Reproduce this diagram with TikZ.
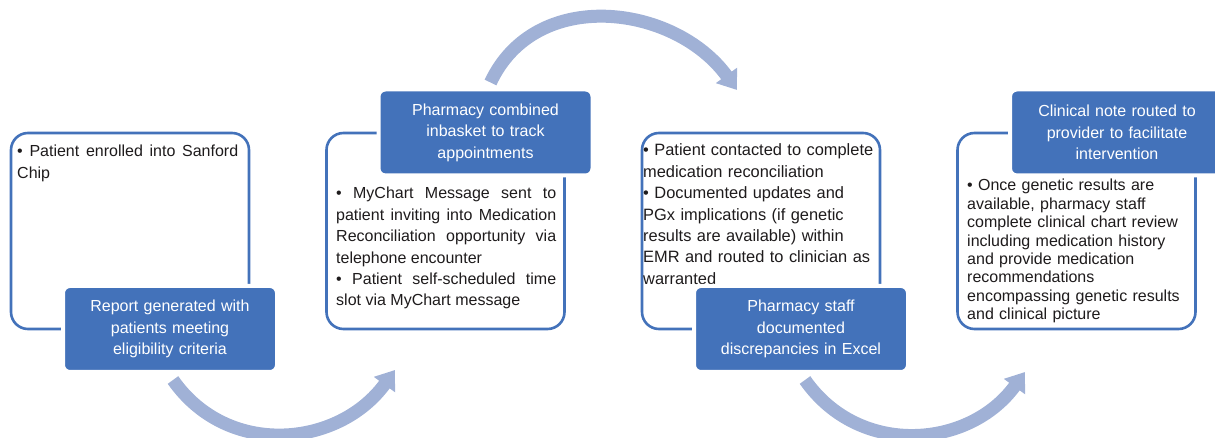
\documentclass[tikz,border=0pt]{standalone}
\usepackage{fontspec}
\setmainfont{Liberation Sans}
\usetikzlibrary{arrows.meta,positioning,calc}
\definecolor{stepblue}{RGB}{67,114,186}
\definecolor{flowblue}{RGB}{160,177,214}
\definecolor{inktext}{RGB}{30,27,28}
\tikzset{panel/.style={draw=stepblue, line width=2.6pt, rounded corners=17pt, fill=white, minimum width=238pt, minimum height=196pt, inner sep=0pt}}
\tikzset{tagbox/.style={draw=white, line width=4pt, fill=stepblue, rounded corners=7pt, text=white, minimum width=214pt, minimum height=86pt, text width=200pt, align=center, inner sep=0pt, font=\fontsize{16}{21.5}\selectfont}}
\tikzset{note/.style={anchor=base west, inner sep=0pt, text=inktext, font=\fontsize{16}{21.4}\selectfont, execute at begin node={\tolerance=10000\relax\hyphenpenalty=10000\relax}}}
\tikzset{flow/.style={draw=flowblue, line width=13pt, -{Triangle[width=25pt,length=18pt]}, looseness=1.1}}

\begin{document}
\begin{tikzpicture}[x=1pt,y=1pt]
			\useasboundingbox (0,0) rectangle (1215,438);
			
			\node[panel] (P1) at (130,207){};
			\node[panel] (P2) at (445.5,207){};
			\node[panel] (P3) at (761,207){};
			\node[panel] (P4) at (1076.5,207){};
			
			\node[note, text width=221pt, align=justify] (N1) at (17,281){%
				• Patient enrolled into Sanford\linebreak Chip};
			\node[note, text width=220pt, align=justify] (N2) at (336,239){%
				• MyChart Message sent to\linebreak patient inviting into Medication\linebreak Reconciliation opportunity via\linebreak telephone encounter\par
				• Patient self-scheduled time\linebreak slot via MyChart message};
			\node[note, text width=240pt, align=left, font=\fontsize{16.4}{21.4}\selectfont] (N3) at (643,282){%
				• Patient contacted to complete\\ medication reconciliation\\ • Documented updates and\\ PGx implications (if genetic\\ results are available) within\\ EMR and routed to clinician as\\ warranted};
			\node[note, text width=235pt, align=left, font=\fontsize{16}{18.4}\selectfont] (N4) at (967,247){%
				• Once genetic results are\\ available, pharmacy staff\\ complete clinical chart review\\ including medication history\\ and provide medication\\ recommendations\\ encompassing genetic results\\ and clinical picture};
			
			\node[tagbox] (rep) at (170,109){Report generated with\\ patients meeting\\ eligibility criteria};
			\node[tagbox] (inb) at (485.5,305.5){Pharmacy combined\\ inbasket to track\\ appointments};
			\node[tagbox] (disc) at (801,109){Pharmacy staff\\ documented\\ discrepancies in Excel};
			\node[tagbox] (clin) at (1117,305.5){Clinical note routed to\\ provider to facilitate\\ intervention};
			
			\coordinate (tip1) at (395,68);
			\coordinate (tip2) at (737,348);
			\coordinate (tip3) at (1025,66);
			
			\draw[flow] ([xshift=3pt,yshift=-6pt]rep.south) to[out=-55, in=-126] (tip1);
			\draw[flow] ([xshift=5pt,yshift=5pt]inb.north) to[out=65, in=126] (tip2);
			\draw[flow] ([xshift=4pt,yshift=-6pt]disc.south) to[out=-55, in=-126] (tip3);
		\end{tikzpicture}
\end{document}
